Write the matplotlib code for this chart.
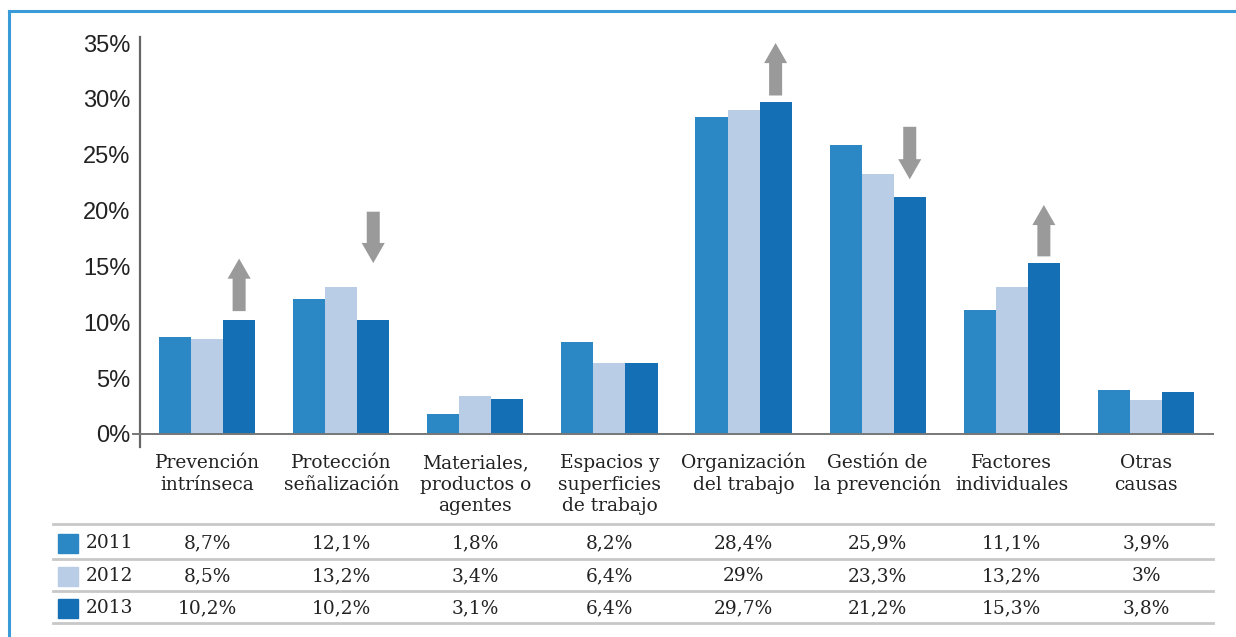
import numpy as np
import matplotlib
matplotlib.use("Agg")
import matplotlib.pyplot as plt
from matplotlib.patches import FancyArrow, Rectangle
from matplotlib.lines import Line2D
from matplotlib.transforms import blended_transform_factory

# ---- data ----
categories = ["Prevención\nintrínseca", "Protección\nseñalización",
              "Materiales,\nproductos o\nagentes", "Espacios y\nsuperficies\nde trabajo",
              "Organización\ndel trabajo", "Gestión de\nla prevención",
              "Factores\nindividuales", "Otras\ncausas"]
years = ["2011", "2012", "2013"]
v2011 = [8.7, 12.1, 1.8, 8.2, 28.4, 25.9, 11.1, 3.9]
v2012 = [8.5, 13.2, 3.4, 6.4, 29.0, 23.3, 13.2, 3.0]
v2013 = [10.2, 10.2, 3.1, 6.4, 29.7, 21.2, 15.3, 3.8]
yticks = [0, 5, 10, 15, 20, 25, 30, 35]
# trend arrows: (category index, start %, end %)
arrows = [(0, 11.0, 15.7), (1, 19.9, 15.3), (4, 30.3, 35.0), (5, 27.5, 22.8), (6, 15.9, 20.5)]

colors = ["#2b88c4", "#b9cde6", "#156fb4"]
series = [v2011, v2012, v2013]

W, H = 1236, 637
fig = plt.figure(figsize=(W / 100, H / 100), dpi=100)
fig.patch.set_facecolor("white")

x0, x1, y0, y1 = 140, 1213, 434, 43
ax = fig.add_axes([x0 / W, 1 - y0 / H, (x1 - x0) / W, (y0 - y1) / H])
ax.set_xlim(-0.5, 7.5)
ax.set_ylim(0, 35)
for s in ax.spines.values():
    s.set_visible(False)

x = np.arange(len(categories))
bw = 0.239
for k, (vals, c) in enumerate(zip(series, colors)):
    ax.bar(x + (k - 1) * bw, vals, width=bw, color=c, edgecolor="none", zorder=2)

# axes lines
ax.plot([-0.5, -0.5], [-1.15, 35.5], color="#666666", lw=1.6, clip_on=False, zorder=3)
ax.plot([-0.55, 7.5], [0, 0], color="#777777", lw=1.4, clip_on=False, zorder=3)

ax.set_yticks(yticks)
ax.set_yticklabels([f"{v}%" for v in yticks], fontsize=17, color="#222222",
                   family="Liberation Sans")
ax.set_xticks([])
ax.tick_params(axis="y", length=0, pad=7)

tr = blended_transform_factory(ax.transData, fig.transFigure)

# category labels, line by line on fixed baselines
for i, lab in enumerate(categories):
    for j, line in enumerate(lab.split("\n")):
        yb = 1 - (468 + 21.5 * j) / H
        ax.text(i, yb, line, transform=tr, fontsize=13.4, family="DejaVu Serif",
                color="#222222", ha="center", va="baseline")

# arrows
for idx, ys, ye in arrows:
    xc = idx + bw
    ax.add_patch(FancyArrow(xc, ys, 0, ye - ys, width=0.097, head_width=0.172,
                            head_length=1.8, length_includes_head=True,
                            color="#9a9a9a", lw=0, zorder=4))

# table below
row_y = [543, 576, 608]
line_y = [524, 559, 591, 623]
for ly in line_y:
    fig.add_artist(Line2D([53 / W, 1213 / W], [1 - ly / H, 1 - ly / H],
                          color="#c8c8c8", lw=2, transform=fig.transFigure))


def fmt(v):
    s = f"{v:.1f}".replace(".", ",")
    if s.endswith(",0"):
        s = s[:-2]
    return s + "%"


for r, (yr, vals, c) in enumerate(zip(years, series, colors)):
    yc = 1 - row_y[r] / H
    fig.add_artist(Rectangle((58 / W, yc - 9.5 / H), 20 / W, 19 / H, color=c,
                             transform=fig.transFigure))
    fig.text(86 / W, yc, yr, fontsize=13.4, family="DejaVu Serif", color="#222222",
             va="center", ha="left")
    for i, v in enumerate(vals):
        ax.text(i, yc, fmt(v), transform=tr, fontsize=13.4, family="DejaVu Serif",
                color="#222222", ha="center", va="center")

# blue frame
fig.add_artist(Line2D([9 / W, 1.0], [1 - 11 / H, 1 - 11 / H], color="#3b9bd9", lw=2.2,
                      transform=fig.transFigure))
fig.add_artist(Line2D([9 / W, 9 / W], [0, 1 - 11 / H], color="#3b9bd9", lw=2.2,
                      transform=fig.transFigure))

fig.savefig("out.png", dpi=100, facecolor="white")
